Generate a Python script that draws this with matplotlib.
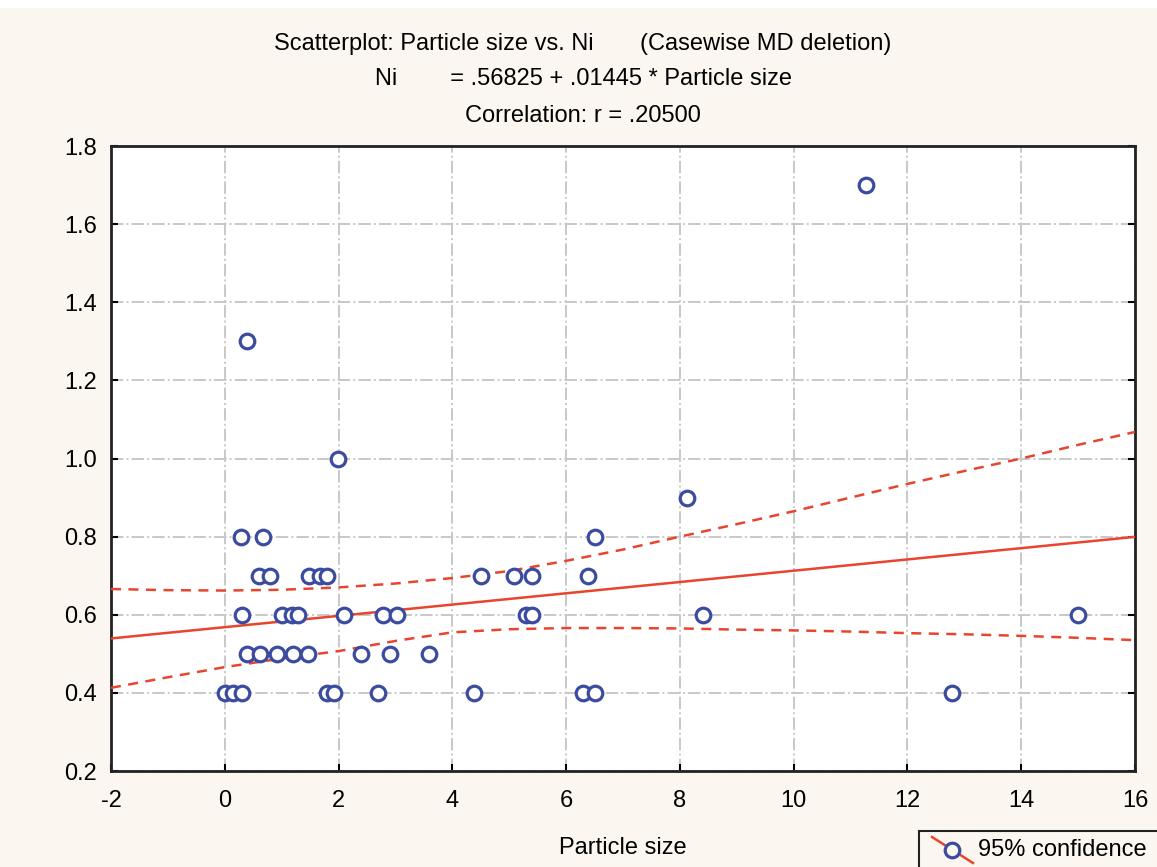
import numpy as np
import matplotlib.pyplot as plt
from matplotlib.patches import Rectangle
from matplotlib.lines import Line2D

plt.rcParams['font.family'] = ['Liberation Sans', 'DejaVu Sans']
plt.rcParams['axes.unicode_minus'] = False

# Particle size vs. Ni observations
particle_size = [0.0, 0.15, 0.3, 1.79, 1.92, 2.7, 4.39, 6.29, 6.5, 12.78,
                 0.4, 0.62, 0.91, 1.2, 1.46, 2.4, 2.9, 3.59,
                 0.3, 1.0, 1.18, 1.28, 2.1, 2.78, 3.02, 5.3, 5.4, 8.4, 14.99,
                 0.6, 0.8, 1.48, 1.67, 1.79, 4.5, 5.08, 5.4, 6.38,
                 0.28, 0.67, 6.5,
                 8.12, 1.99, 0.4, 11.28]
ni = [0.4, 0.4, 0.4, 0.4, 0.4, 0.4, 0.4, 0.4, 0.4, 0.4,
      0.5, 0.5, 0.5, 0.5, 0.5, 0.5, 0.5, 0.5,
      0.6, 0.6, 0.6, 0.6, 0.6, 0.6, 0.6, 0.6, 0.6, 0.6, 0.6,
      0.7, 0.7, 0.7, 0.7, 0.7, 0.7, 0.7, 0.7, 0.7,
      0.8, 0.8, 0.8,
      0.9, 1.0, 1.3, 1.7]

# fitted line  Ni = .56825 + .01445 * Particle size
intercept = 0.56825
slope = 0.01445

# 95% confidence band
band_x = [-2, -1, 0, 1, 2, 3, 4, 5, 6, 7, 8, 9, 10, 11, 12, 13, 14, 15, 16]
band_upper = [0.666, 0.663, 0.662, 0.664, 0.670, 0.680, 0.694, 0.712, 0.738,
              0.767, 0.800, 0.832, 0.865, 0.900, 0.935, 0.968, 1.000, 1.035, 1.068]
band_lower = [0.413, 0.440, 0.466, 0.488, 0.507, 0.533, 0.555, 0.563, 0.566,
              0.566, 0.565, 0.562, 0.560, 0.557, 0.553, 0.550, 0.546, 0.541, 0.535]

red = '#e8452f'
blue = '#3b4ca0'
cream = '#fbf7f0'
fs = 17

fig = plt.figure(figsize=(11.57, 8.67), dpi=100, facecolor=cream)
ax = fig.add_axes([0.0959, 0.1107, 0.8851, 0.7209])
ax.set_facecolor('white')

fit_x = np.array([-2.0, 16.0])
ax.plot(fit_x, intercept + slope * fit_x, color=red, lw=1.8, zorder=3)
ax.plot(band_x, band_upper, color=red, lw=1.8, ls=(0, (4, 3)), zorder=3)
ax.plot(band_x, band_lower, color=red, lw=1.8, ls=(0, (4, 3)), zorder=3)
ax.plot(particle_size, ni, 'o', ms=10.5, mfc='white', mec=blue, mew=2.3,
        ls='none', zorder=4)

ax.set_xlim(-2, 16)
ax.set_ylim(0.2, 1.8)
ax.set_xticks(np.arange(-2, 17, 2))
ax.set_yticks(np.arange(0.2, 1.81, 0.2))
ax.set_yticklabels([f'{v:.1f}' for v in np.arange(0.2, 1.81, 0.2)])
ax.grid(True, color='#c8c8c8', lw=1.4, ls='-.')
ax.set_axisbelow(True)
ax.tick_params(direction='in', length=5, width=1.5, labelsize=fs,
               right=True, top=False)
ax.tick_params(axis='x', pad=14)
ax.tick_params(axis='y', pad=10)
for s in ax.spines.values():
    s.set_linewidth(2)
    s.set_color('#222222')

ax.set_xlabel('Particle size', fontsize=fs, labelpad=18)

fig.text(0.504, 0.949, 'Scatterplot: Particle size vs. Ni       (Casewise MD deletion)',
         ha='center', va='center', fontsize=fs)
fig.text(0.504, 0.909, 'Ni        = .56825 + .01445 * Particle size',
         ha='center', va='center', fontsize=fs)
fig.text(0.504, 0.866, 'Correlation: r = .20500',
         ha='center', va='center', fontsize=fs)

# white strip along the top edge
fig.patches.append(Rectangle((0, 0.991), 1, 0.009, transform=fig.transFigure,
                             facecolor='white', edgecolor='none', zorder=0))

# legend box in the lower right corner
fig.patches.append(Rectangle((919 / 1157, -0.01), 0.25, (867 - 831) / 867 + 0.01,
                             transform=fig.transFigure, facecolor=cream,
                             edgecolor='#222222', lw=1.5))
fig.lines.append(Line2D([932 / 1157, 973 / 1157], [1 - 837 / 867, 1 - 863 / 867],
                        transform=fig.transFigure, color=red, lw=1.8))
fig.lines.append(Line2D([952 / 1157], [1 - 850 / 867], transform=fig.transFigure,
                        marker='o', ms=10.5, mfc=cream, mec=blue, mew=2.3))
fig.text(978 / 1157, 1 - 850 / 867, '95% confidence', ha='left', va='center',
         fontsize=fs)

fig.savefig('out.png', dpi=100, facecolor=cream)
